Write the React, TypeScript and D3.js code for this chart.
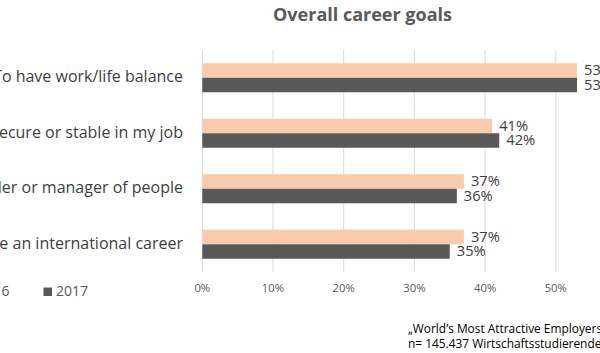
import React from "react";
import { scaleLinear, scaleBand } from "d3";

// categories (top to bottom)
const categories = [
  "To have work/life balance",
  "To be secure or stable in my job",
  "To be a leader or manager of people",
  "To have an international career",
];
const seriesNames = ["2016", "2017"];
const values2016 = [0.53, 0.41, 0.37, 0.37];
const values2017 = [0.53, 0.42, 0.36, 0.35];
const tickValues = [0, 0.1, 0.2, 0.3, 0.4, 0.5];
const footnote = [
  "„World’s Most Attractive Employers 2017“",
  "n= 145.437 Wirtschaftsstudierende aus 12 Ländern",
];

const colors = { "2016": "#F8CBAD", "2017": "#595959" };
const FONT = "'Open Sans', sans-serif";

export default function App() {
  const width = 600;
  const height = 353;

  const x = scaleLinear().domain([0, 0.6]).range([202.3, 626.5]);
  const y = scaleBand<string>()
    .domain(categories)
    .range([50, 272])
    .paddingInner(0.477)
    .paddingOuter(0.2385);
  const inner = scaleBand<string>().domain(seriesNames).range([0, y.bandwidth()]);

  const series = [
    { name: "2016", values: values2016 },
    { name: "2017", values: values2017 },
  ];

  return (
    <div style={{ position: "absolute", left: 0, top: 0 }}>
      <svg width={width} height={height} style={{ display: "block", background: "#fff" }}>
        {/* title */}
        <text
          x={362.5}
          y={16}
          textAnchor="middle"
          dominantBaseline="middle"
          fontFamily={FONT}
          fontWeight={700}
          fontSize={18}
          fill="#595959"
        >
          Overall career goals
        </text>

        {/* gridlines + tick labels */}
        {tickValues.map((t) => (
          <g key={t}>
            <line x1={x(t)} x2={x(t)} y1={50} y2={272} stroke="#D9D9D9" strokeWidth={1} />
            <text
              x={x(t)}
              y={288.5}
              textAnchor="middle"
              dominantBaseline="middle"
              fontFamily={FONT}
              fontSize={11.3}
              fill="#595959"
            >
              {Math.round(t * 100)}%
            </text>
          </g>
        ))}

        {/* category labels */}
        {categories.map((c) => (
          <text
            key={c}
            x={183}
            y={(y(c) ?? 0) + y.bandwidth() / 2}
            textAnchor="end"
            dominantBaseline="middle"
            fontFamily={FONT}
            fontSize={16}
            fill="#404040"
          >
            {c}
          </text>
        ))}

        {/* bars + value labels */}
        {series.map((s) =>
          categories.map((c, i) => {
            const y0 = (y(c) ?? 0) + (inner(s.name) ?? 0);
            const v = s.values[i];
            return (
              <g key={s.name + c}>
                <rect
                  x={x(0)}
                  y={y0}
                  width={x(v) - x(0)}
                  height={inner.bandwidth()}
                  fill={colors[s.name as "2016" | "2017"]}
                />
                <text
                  x={x(v) + 7}
                  y={y0 + inner.bandwidth() / 2 + 1}
                  dominantBaseline="middle"
                  fontFamily={FONT}
                  fontSize={14.7}
                  fill="#404040"
                >
                  {Math.round(v * 100)}%
                </text>
              </g>
            );
          })
        )}

        {/* legend */}
        {seriesNames.map((n, i) => {
          const lx = -35 + i * 78.5;
          return (
            <g key={n}>
              <rect x={lx} y={287.5} width={8.5} height={8.5} fill={colors[n as "2016" | "2017"]} />
              <text
                x={lx + 12.5}
                y={292}
                dominantBaseline="middle"
                fontFamily={FONT}
                fontSize={14}
                fill="#595959"
              >
                {n}
              </text>
            </g>
          );
        })}

        {/* source note */}
        {footnote.map((line, i) => (
          <text
            key={i}
            x={408}
            y={330 + i * 15}
            dominantBaseline="middle"
            fontFamily={FONT}
            fontSize={11.9}
            fill="#000"
          >
            {line}
          </text>
        ))}
      </svg>
    </div>
  );
}
